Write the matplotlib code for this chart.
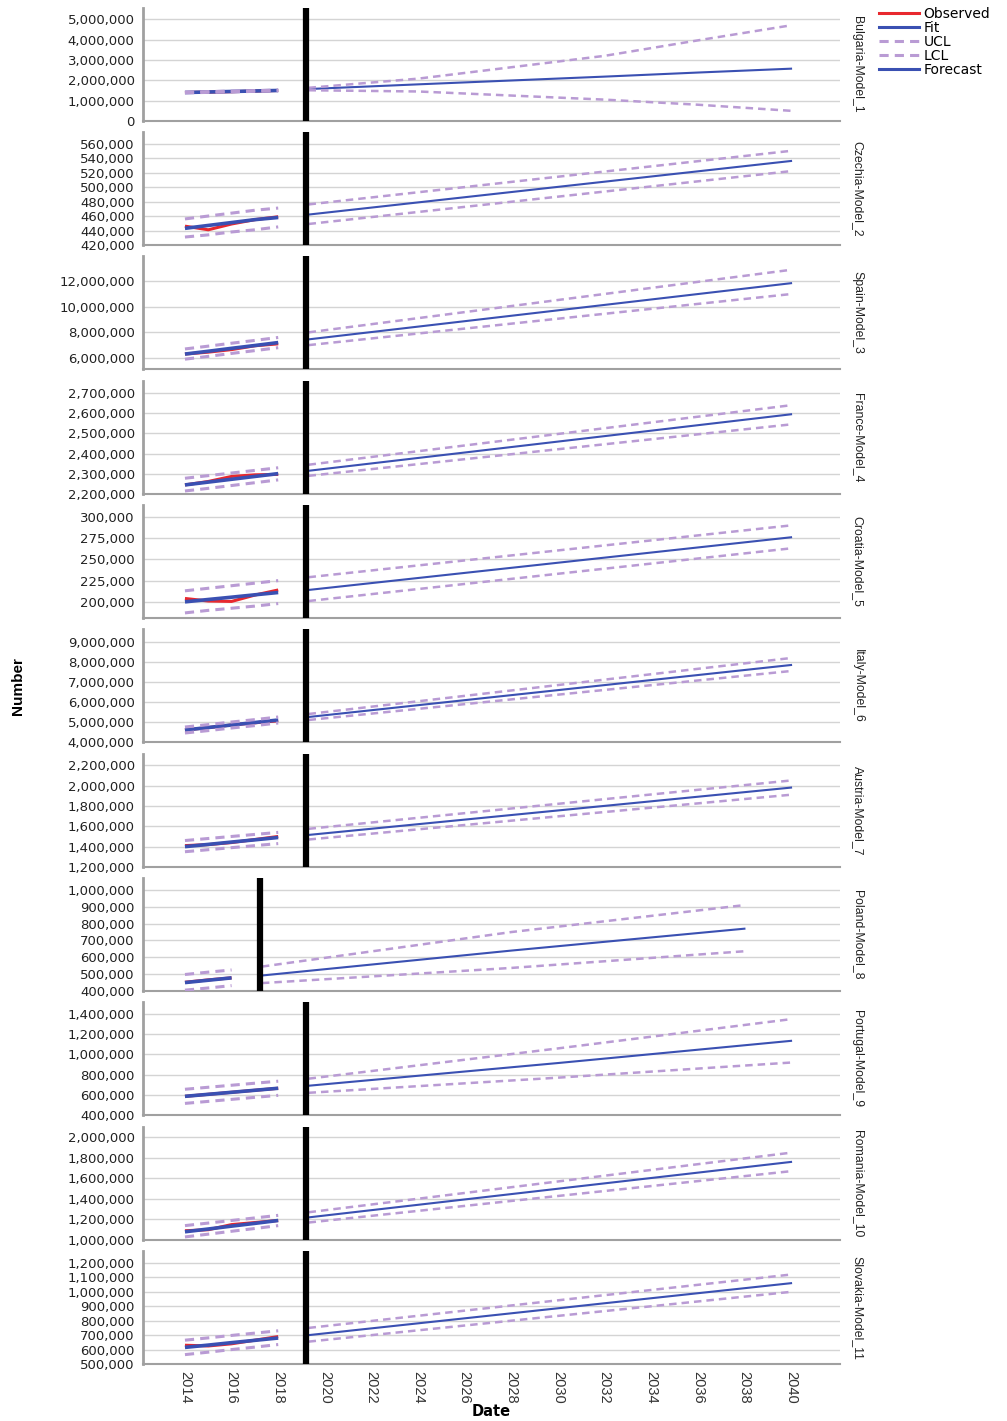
import matplotlib
matplotlib.use("Agg")
import matplotlib.pyplot as plt
from matplotlib.ticker import FuncFormatter, MultipleLocator
from matplotlib.lines import Line2D

# ---------------- data ----------------
models = ["Bulgaria-Model_1", "Czechia-Model_2", "Spain-Model_3", "France-Model_4",
          "Croatia-Model_5", "Italy-Model_6", "Austria-Model_7", "Poland-Model_8",
          "Portugal-Model_9", "Romania-Model_10", "Slovakia-Model_11"]

hist_years = [2014, 2015, 2016, 2017, 2018]
hist_years_pl = [2014, 2015, 2016]

observed = [
    [1400000, 1420000, 1440000, 1470000, 1500000],
    [446000, 441000, 449000, 455000, 459000],
    [6300000, 6450000, 6650000, 6950000, 7100000],
    [2245000, 2262000, 2287000, 2295000, 2297000],
    [204000, 201000, 200500, 208000, 214000],
    [4600000, 4720000, 4850000, 4960000, 5060000],
    [1410000, 1420000, 1440000, 1470000, 1500000],
    [452000, 466000, 478000],
    [585000, 605000, 625000, 645000, 665000],
    [1090000, 1100000, 1150000, 1170000, 1190000],
    [630000, 625000, 640000, 665000, 690000],
]
fit = [
    [1400000, 1425000, 1450000, 1475000, 1500000],
    [443000, 447000, 451000, 455000, 458000],
    [6300000, 6520000, 6750000, 6970000, 7200000],
    [2245000, 2259000, 2273000, 2287000, 2301000],
    [200000, 202800, 205500, 208300, 211000],
    [4600000, 4725000, 4850000, 4975000, 5100000],
    [1400000, 1422000, 1445000, 1467000, 1490000],
    [450000, 464000, 478000],
    [585000, 605000, 625000, 645000, 665000],
    [1080000, 1107000, 1135000, 1162000, 1190000],
    [615000, 631000, 648000, 664000, 680000],
]
ucl = [
    [1420000, 1445000, 1470000, 1495000, 1520000],
    [456000, 460000, 464000, 468000, 471000],
    [6700000, 6920000, 7150000, 7370000, 7600000],
    [2278000, 2291000, 2304000, 2317000, 2330000],
    [213000, 216000, 219000, 222000, 225000],
    [4750000, 4870000, 5000000, 5120000, 5250000],
    [1460000, 1480000, 1500000, 1520000, 1540000],
    [498000, 512000, 525000],
    [655000, 675000, 695000, 715000, 735000],
    [1140000, 1165000, 1190000, 1215000, 1240000],
    [665000, 681000, 698000, 714000, 730000],
]
lcl = [
    [1380000, 1405000, 1430000, 1455000, 1480000],
    [431000, 434000, 438000, 441000, 445000],
    [5900000, 6120000, 6350000, 6570000, 6800000],
    [2215000, 2228000, 2242000, 2256000, 2270000],
    [187000, 190000, 192500, 195000, 198000],
    [4450000, 4570000, 4700000, 4820000, 4950000],
    [1350000, 1370000, 1390000, 1410000, 1430000],
    [405000, 418000, 432000],
    [515000, 535000, 555000, 575000, 595000],
    [1030000, 1057000, 1085000, 1112000, 1140000],
    [565000, 582000, 600000, 617000, 635000],
]

# forecast period (start / end, more points where bounds curve)
fc_years = [
    [2019.3, 2024, 2028, 2032, 2036, 2040],
    [2019.3, 2040], [2019.3, 2040], [2019.3, 2040], [2019.3, 2040],
    [2019.3, 2040], [2019.3, 2040],
    [2017.3, 2028, 2038],
    [2019.3, 2030, 2040], [2019.3, 2040], [2019.3, 2040],
]
forecast = [
    [1570000, 1800000, 1990000, 2180000, 2380000, 2570000],
    [462000, 536000],
    [7450000, 11850000],
    [2315000, 2595000],
    [214000, 276000],
    [5250000, 7850000],
    [1515000, 1980000],
    [492000, 640000, 770000],
    [690000, 915000, 1135000],
    [1220000, 1760000],
    [700000, 1060000],
]
fc_ucl = [
    [1630000, 2080000, 2640000, 3200000, 3960000, 4700000],
    [476000, 550000],
    [8000000, 12900000],
    [2345000, 2640000],
    [229000, 290000],
    [5400000, 8200000],
    [1575000, 2050000],
    [545000, 750000, 910000],
    [760000, 1060000, 1350000],
    [1270000, 1850000],
    [750000, 1120000],
]
fc_lcl = [
    [1510000, 1450000, 1250000, 1050000, 800000, 500000],
    [449000, 522000],
    [7000000, 11000000],
    [2290000, 2545000],
    [201000, 263000],
    [5100000, 7550000],
    [1470000, 1910000],
    [447000, 537000, 636000],
    [620000, 770000, 920000],
    [1170000, 1670000],
    [655000, 1000000],
]
cut_year = [2019.2, 2019.2, 2019.2, 2019.2, 2019.2, 2019.2, 2019.2, 2017.2, 2019.2, 2019.2, 2019.2]

ylims = [(0, 5550000), (420000, 576000), (5130000, 13980000), (2200000, 2760000),
         (181000, 314000), (4000000, 9650000), (1200000, 2310000), (400000, 1071000),
         (400000, 1520000), (1000000, 2100000), (500000, 1283000)]
ysteps = [1000000, 20000, 2000000, 100000, 25000, 1000000, 200000, 100000, 200000, 200000, 100000]

x_ticks = list(range(2014, 2041, 2))

# ---------------- style ----------------
RED = "#e8282e"
BLUE = "#3a50b2"
PURP = "#b99bd4"
GRID = "#d4d4d4"
SPINE = "#a0a0a0"

W, H = 1007, 1421
fig = plt.figure(figsize=(W / 100, H / 100), dpi=100)

left_px, right_px = 143, 840
tops = [8, 132, 256, 381, 505, 629, 754, 878, 1002, 1127, 1251]
ph = 113

lib = ["Liberation Sans", "DejaVu Sans"]
fmt = FuncFormatter(lambda v, p: f"{int(round(v)):,}")

axes = []
for i in range(11):
    top = tops[i]
    ax = fig.add_axes([left_px / W, 1 - (top + ph) / H, (right_px - left_px) / W, ph / H])
    axes.append(ax)
    hy = hist_years_pl if i == 7 else hist_years
    ax.plot(hy, observed[i], color=RED, lw=2.2, zorder=3, solid_capstyle="butt")
    ax.plot(hy, fit[i], color=BLUE, lw=2.6, zorder=4, solid_capstyle="butt")
    ax.plot(hy, ucl[i], color=PURP, lw=2.2, ls=(0, (3, 2)), zorder=5)
    ax.plot(hy, lcl[i], color=PURP, lw=2.2, ls=(0, (3, 2)), zorder=5)
    ax.plot(fc_years[i], forecast[i], color=BLUE, lw=1.5, zorder=4)
    ax.plot(fc_years[i], fc_ucl[i], color=PURP, lw=1.8, ls=(0, (3, 2)), zorder=5)
    ax.plot(fc_years[i], fc_lcl[i], color=PURP, lw=1.8, ls=(0, (3, 2)), zorder=5)
    ax.axvline(cut_year[i], color="black", lw=4.5, zorder=6)

    ax.set_xlim(2012.2, 2042.1)
    ax.set_ylim(*ylims[i])
    ax.yaxis.set_major_locator(MultipleLocator(ysteps[i]))
    ax.yaxis.set_major_formatter(fmt)
    ax.grid(axis="y", color=GRID, lw=1.0)
    ax.set_axisbelow(True)
    for s in ["top", "right"]:
        ax.spines[s].set_visible(False)
    ax.spines["left"].set_color(SPINE)
    ax.spines["left"].set_linewidth(2.0)
    ax.spines["bottom"].set_color(SPINE)
    ax.spines["bottom"].set_linewidth(1.5)
    ax.tick_params(axis="y", length=0, labelsize=9.5, pad=6, labelcolor="#222222")
    ax.set_xticks(x_ticks)
    if i < 10:
        ax.tick_params(axis="x", length=0, labelbottom=False)
    else:
        ax.tick_params(axis="x", length=0, pad=5)
        ax.set_xticklabels([str(t) for t in x_ticks], rotation=270,
                           family=lib, fontsize=10.5, color="#333333")
    ax.text(1.025, 0.5, models[i], transform=ax.transAxes, rotation=270,
            ha="center", va="center", family=lib, fontsize=8.8, color="#222222")

fig.text(18 / W, 1 - 686 / H, "Number", rotation=90, ha="center", va="center",
         family=lib, fontsize=11, fontweight="bold")
fig.text(491 / W, 1 - 1412 / H, "Date", ha="center", va="center",
         fontsize=10.5, fontweight="bold")

handles = [Line2D([], [], color=RED, lw=2.2),
           Line2D([], [], color=BLUE, lw=2.2),
           Line2D([], [], color=PURP, lw=2.2, ls=(0, (3, 2))),
           Line2D([], [], color=PURP, lw=2.2, ls=(0, (3, 2))),
           Line2D([], [], color=BLUE, lw=2.2)]
fig.legend(handles, ["Observed", "Fit", "UCL", "LCL", "Forecast"],
           loc="upper left", bbox_to_anchor=(879 / W, 1 - 7 / H), frameon=False,
           fontsize=10, handlelength=2.9, handletextpad=0.3, labelspacing=0.0,
           borderaxespad=0, borderpad=0)

fig.savefig("out.png", dpi=100)
